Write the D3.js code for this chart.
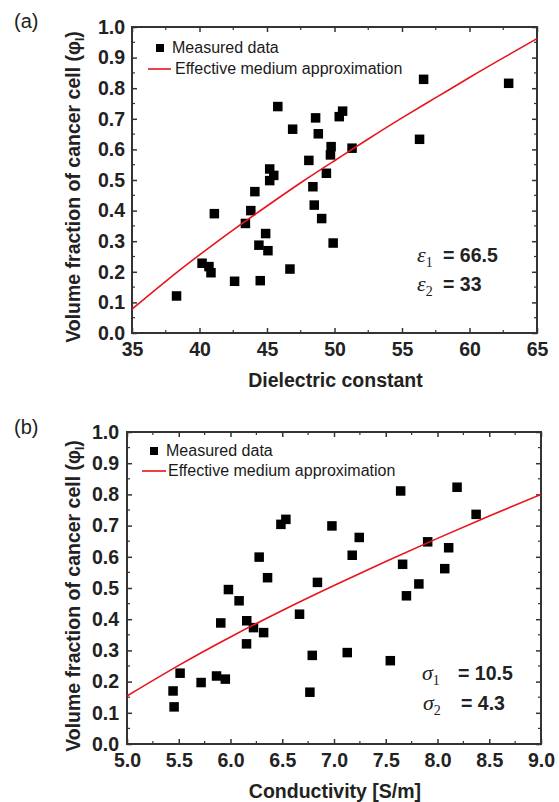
<!DOCTYPE html>
<html><head><meta charset="utf-8">
<script src="https://cdn.jsdelivr.net/npm/d3@7"></script>
<style>body{margin:0;background:#fff}svg{display:block}</style>
</head><body>
<script>
// Panel (a): dielectric constant vs volume fraction
const dielectricX = [38.3,40.19,40.7,40.85,41.1,42.6,43.4,43.8,44.1,44.5,44.4,44.9,45.07,45.2,45.5,45.2,45.8,46.7,46.9,48.1,48.4,48.5,49.05,48.6,48.8,49.4,49.75,49.7,49.9,50.35,50.6,51.3,56.3,56.6,62.9];
const dielectricPhi = [0.121,0.228,0.217,0.197,0.39,0.169,0.358,0.40,0.462,0.171,0.287,0.325,0.269,0.536,0.515,0.498,0.74,0.209,0.666,0.564,0.478,0.418,0.374,0.703,0.651,0.522,0.609,0.582,0.294,0.707,0.725,0.604,0.633,0.829,0.816];
const emaDielectricX = [35,37.5,40,42.5,45,47.5,50,52.5,55,57.5,60,62.5,65];
const emaDielectricPhi = [0.078,0.169,0.255,0.337,0.415,0.491,0.563,0.634,0.703,0.769,0.835,0.899,0.962];
// Panel (b): conductivity vs volume fraction
const conductX = [5.445,5.455,5.513,5.716,5.865,5.95,5.906,5.98,6.083,6.157,6.222,6.155,6.32,6.277,6.358,6.487,6.535,6.667,6.79,6.767,6.84,6.98,7.244,7.176,7.644,8.189,8.373,7.905,8.108,7.663,8.07,7.82,7.70,7.128,7.544];
const conductPhi = [0.170,0.119,0.227,0.197,0.218,0.208,0.388,0.495,0.459,0.395,0.373,0.321,0.357,0.599,0.533,0.704,0.72,0.416,0.284,0.166,0.518,0.699,0.662,0.605,0.811,0.823,0.736,0.648,0.629,0.576,0.562,0.513,0.475,0.293,0.267];
const emaConductX = [5.0,5.5,6.0,6.5,7.0,7.5,8.0,8.5,9.0];
const emaConductPhi = [0.154,0.252,0.343,0.428,0.508,0.585,0.659,0.731,0.800];
const yTicks = [0.0,0.1,0.2,0.3,0.4,0.5,0.6,0.7,0.8,0.9,1.0];
const xTicksA = [35,40,45,50,55,60,65];
const xTicksB = [5.0,5.5,6.0,6.5,7.0,7.5,8.0,8.5,9.0];
const legendLabels = ["Measured data","Effective medium approximation"];

const svg = d3.select("body").append("svg").attr("width",559).attr("height",802)
  .style("font-family","'Liberation Sans', Arial, sans-serif");

const FS = 19.5;
function panel(o){
  const g = svg.append("g");
  const x = d3.scaleLinear().domain(o.xDomain).range([o.left,o.right]);
  const y = d3.scaleLinear().domain([0,1]).range([o.bottom,o.top]);
  const axisCol = "#333";
  const cid = "clip"+o.id;
  svg.append("clipPath").attr("id",cid).append("rect")
    .attr("x",o.left).attr("y",o.top).attr("width",o.right-o.left).attr("height",o.bottom-o.top);
  const xMinor = d3.range(o.xDomain[0], o.xDomain[1]+1e-9, o.xMinorStep);
  const yMinor = d3.range(0,1.0001,0.05);
  const tk = (sel) => sel.attr("stroke",axisCol).attr("stroke-width",1.5);
  const bg = g.append("g").attr("transform",`translate(0,${o.bottom})`).call(
    d3.axisBottom(x).tickValues(o.xTicks).tickSize(-5).tickPadding(9).tickFormat(o.xFmt));
  bg.select(".domain").remove();
  bg.selectAll("line").call(tk);
  bg.selectAll("text").attr("font-size",FS).attr("font-weight","bold").attr("fill","#222");
  const lg = g.append("g").attr("transform",`translate(${o.left},0)`).call(
    d3.axisLeft(y).tickValues(yTicks).tickSize(-5).tickPadding(o.yPad).tickFormat(d3.format(".1f")));
  lg.select(".domain").remove();
  lg.selectAll("line").call(tk);
  lg.selectAll("text").attr("font-size",FS).attr("font-weight","bold").attr("fill","#222");
  const tg = g.append("g").attr("transform",`translate(0,${o.top})`).call(
    d3.axisTop(x).tickValues(o.xTicks).tickSize(-5).tickFormat(""));
  tg.select(".domain").remove(); tg.selectAll("line").call(tk);
  const rg = g.append("g").attr("transform",`translate(${o.right},0)`).call(
    d3.axisRight(y).tickValues(yTicks).tickSize(-5).tickFormat(""));
  rg.select(".domain").remove(); rg.selectAll("line").call(tk);
  const mg = g.append("g").attr("stroke",axisCol).attr("stroke-width",1.2);
  xMinor.forEach(v=>{ if(!o.xTicks.some(t=>Math.abs(t-v)<1e-6)){
    mg.append("line").attr("x1",x(v)).attr("x2",x(v)).attr("y1",o.bottom).attr("y2",o.bottom-3);
    mg.append("line").attr("x1",x(v)).attr("x2",x(v)).attr("y1",o.top).attr("y2",o.top+3);}});
  yMinor.forEach(v=>{ if(Math.abs(v*10-Math.round(v*10))>1e-6){
    mg.append("line").attr("y1",y(v)).attr("y2",y(v)).attr("x1",o.left).attr("x2",o.left+3);
    mg.append("line").attr("y1",y(v)).attr("y2",y(v)).attr("x1",o.right).attr("x2",o.right-3);}});
  g.append("rect").attr("x",o.left).attr("y",o.top).attr("width",o.right-o.left).attr("height",o.bottom-o.top)
    .attr("fill","none").attr("stroke",axisCol).attr("stroke-width",2);
  g.append("g").selectAll("rect").data(o.px.map((v,i)=>[v,o.py[i]])).join("rect")
    .attr("x",d=>x(d[0])-4.75).attr("y",d=>y(d[1])-4.75).attr("width",9.5).attr("height",9.5).attr("fill","#000");
  g.append("path").datum(o.lx.map((v,i)=>[v,o.ly[i]]))
    .attr("clip-path",`url(#${cid})`)
    .attr("d",d3.line().x(d=>x(d[0])).y(d=>y(d[1])).curve(d3.curveNatural))
    .attr("fill","none").attr("stroke","#e8141b").attr("stroke-width",1.6);
  // legend
  const L = o.leg;
  g.append("rect").attr("x",L.sx-4).attr("y",L.sy-4).attr("width",8).attr("height",8).attr("fill","#000");
  g.append("text").attr("x",L.t1x).attr("y",L.t1y).attr("font-size",16).attr("fill","#1a1a1a").text(legendLabels[0]);
  g.append("line").attr("x1",L.lx1).attr("x2",L.lx2).attr("y1",L.ly).attr("y2",L.ly)
    .attr("stroke","#e8141b").attr("stroke-width",1.6);
  g.append("text").attr("x",L.t2x).attr("y",L.t2y).attr("font-size",16).attr("fill","#1a1a1a").text(legendLabels[1]);
  // panel label
  g.append("text").attr("x",14).attr("y",o.tagY).attr("font-size",20).attr("fill","#222").text(o.tag);
  // axis titles
  g.append("text").attr("x",(o.left+o.right)/2+1).attr("y",o.xTitleY).attr("text-anchor","middle")
    .attr("font-size",FS).attr("font-weight","bold").attr("fill","#222").text(o.xTitle);
  const yt = g.append("text").attr("transform",`translate(80,${o.yTitleC}) rotate(-90)`)
    .attr("text-anchor","middle").attr("font-size",FS).attr("font-weight","bold").attr("fill","#222");
  yt.append("tspan").text("Volume fraction of cancer cell (φ");
  yt.append("tspan").attr("font-size",12).attr("dy",4).text("l");
  yt.append("tspan").attr("dy",-4).text(")");
  // annotation
  const an = g.append("g").attr("fill","#222");
  o.ann.forEach(a=>{
    const t = an.append("text").attr("x",a.x).attr("y",a.y);
    t.append("tspan").attr("font-family","'Liberation Serif','DejaVu Serif',serif").attr("font-style","italic").attr("font-size",22).text(a.sym);
    t.append("tspan").attr("font-family","'Liberation Serif',serif").attr("font-size",14).attr("dy",5).text(a.sub);
    an.append("text").attr("x",a.x2).attr("y",a.y).attr("font-size",FS).attr("font-weight","bold").text(a.val);
  });
}

panel({id:"a",tag:"(a)",tagY:28,xDomain:[35,65],xTicks:xTicksA,xMinorStep:2.5,xFmt:d3.format("d"),yPad:7,
  left:132,right:537,top:27,bottom:333,px:dielectricX,py:dielectricPhi,lx:emaDielectricX,ly:emaDielectricPhi,
  leg:{sx:160,sy:48,t1x:172,t1y:53,lx1:148,lx2:171,ly:69,t2x:175,t2y:74},
  xTitle:"Dielectric constant",xTitleY:387,yTitleC:187,
  ann:[{sym:"ε",sub:"1",x:417,y:262,x2:443,val:"= 66.5"},{sym:"ε",sub:"2",x:417,y:291,x2:443,val:"= 33"}]});
panel({id:"b",tag:"(b)",tagY:434,xDomain:[5,9],xTicks:xTicksB,xMinorStep:0.25,xFmt:d3.format(".1f"),yPad:8,
  left:127,right:541,top:432,bottom:744,px:conductX,py:conductPhi,lx:emaConductX,ly:emaConductPhi,
  leg:{sx:154,sy:451,t1x:166,t1y:456,lx1:142,lx2:166,ly:471,t2x:168,t2y:476},
  xTitle:"Conductivity [S/m]",xTitleY:798,yTitleC:596,
  ann:[{sym:"σ",sub:"1",x:422,y:680,x2:458,val:"= 10.5"},{sym:"σ",sub:"2",x:423,y:710,x2:461,val:"= 4.3"}]});
</script>
</body></html>
